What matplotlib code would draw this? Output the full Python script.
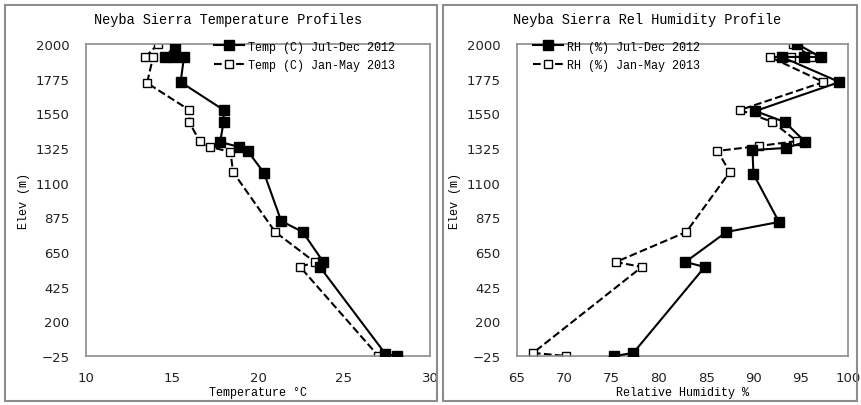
import matplotlib.pyplot as plt
from matplotlib.patches import Rectangle

# temperature profiles (deg C vs elevation m)
temp_elev_2012 = [1990, 1916, 1916, 1916, 1753, 1572, 1494, 1364, 1332, 1306, 1163, 851, 780, 585, 553, -10, -25]
temp_2012 = [15.2, 14.6, 15.1, 15.7, 15.5, 18.0, 18.0, 17.8, 18.9, 19.4, 20.35, 21.35, 22.6, 23.8, 23.6, 27.4, 28.1]
temp_elev_2013 = [2000, 1916, 1916, 1747, 1572, 1494, 1370, 1332, 1300, 1169, 780, 585, 553, -25]
temp_2013 = [14.2, 13.45, 13.9, 13.55, 16.0, 16.0, 16.6, 17.2, 18.4, 18.55, 21.0, 23.3, 22.45, 27.0]

# relative humidity profiles (% vs elevation m)
rh_elev_2012 = [2000, 1916, 1916, 1916, 1753, 1565, 1494, 1364, 1325, 1312, 1156, 845, 780, 585, 553, -5, -25]
rh_2012 = [94.6, 97.1, 95.3, 93.0, 99.1, 90.2, 93.3, 95.5, 93.4, 89.9, 90.0, 92.7, 87.15, 82.8, 84.85, 77.3, 75.3]
rh_elev_2013 = [2000, 1916, 1916, 1916, 1753, 1572, 1494, 1370, 1338, 1306, 1169, 780, 585, 553, -5, -25]
rh_2013 = [94.2, 96.1, 94.0, 91.75, 97.4, 88.6, 92.0, 94.6, 90.6, 86.2, 87.5, 82.9, 75.45, 78.2, 66.7, 70.2]

elev_ticks = list(range(-25, 2001, 225))

mono = 'Liberation Mono'
W, H = 862, 406
fig = plt.figure(figsize=(W / 100, H / 100), dpi=100)

# outer panel frames
fig.patches.append(Rectangle((5/W, 4/H), 432/W, 396/H, transform=fig.transFigure,
                             fill=False, ec='#8c8c8c', lw=1.5))
fig.patches.append(Rectangle((443/W, 4/H), 414/W, 396/H, transform=fig.transFigure,
                             fill=False, ec='#8c8c8c', lw=1.5))

ax1 = fig.add_axes([86/W, 1 - 357/H, 344/W, 312/H])
ax2 = fig.add_axes([517/W, 1 - 357/H, 331/W, 312/H])

def style(ax, xlim, xticks, xlabel):
    ax.set_xlim(*xlim)
    ax.set_ylim(-25, 2000)
    ax.set_xticks(xticks)
    ax.set_yticks(elev_ticks)
    ax.tick_params(length=0, labelsize=9.5, colors='#222222')
    ax.tick_params(axis='x', pad=11)
    ax.tick_params(axis='y', pad=12)
    for s in ax.spines.values():
        s.set_color('#8c8c8c')
        s.set_linewidth(1.2)
    ax.set_xlabel(xlabel, family=mono, fontsize=8.5, labelpad=1)
    ax.set_ylabel('Elev (m)', family=mono, fontsize=8.5, labelpad=4)

ax1.plot(temp_2012, temp_elev_2012, '-s', color='black', lw=1.5, ms=7.5,
         mfc='black', mec='black', label='Temp (C) Jul-Dec 2012', zorder=3)
ax1.plot(temp_2013, temp_elev_2013, '--s', color='black', lw=1.5, ms=6,
         mfc='white', mec='black', mew=1, label='Temp (C) Jan-May 2013', zorder=2)
style(ax1, (10, 30), [10, 15, 20, 25, 30], 'Temperature °C')
ax1.legend(loc='upper left', bbox_to_anchor=(0.34, 1.045), frameon=False,
           prop={'family': mono, 'size': 8.5}, handlelength=2.6, handletextpad=0.3,
           labelspacing=0.55)

ax2.plot(rh_2012, rh_elev_2012, '-s', color='black', lw=1.5, ms=7.5,
         mfc='black', mec='black', label='RH (%) Jul-Dec 2012', zorder=3)
ax2.plot(rh_2013, rh_elev_2013, '--s', color='black', lw=1.5, ms=6,
         mfc='white', mec='black', mew=1, label='RH (%) Jan-May 2013', zorder=2)
style(ax2, (65, 100), [65, 70, 75, 80, 85, 90, 95, 100], 'Relative Humidity %')
ax2.legend(loc='upper left', bbox_to_anchor=(0.015, 1.045), frameon=False,
           prop={'family': mono, 'size': 8.5}, handlelength=2.6, handletextpad=0.3,
           labelspacing=0.55)

fig.text(228/W, 1 - 20/H, 'Neyba Sierra Temperature Profiles', family=mono,
         fontsize=9.8, ha='center', va='center')
fig.text(647/W, 1 - 20/H, 'Neyba Sierra Rel Humidity Profile', family=mono,
         fontsize=9.8, ha='center', va='center')

plt.savefig('out.png', dpi=100)
